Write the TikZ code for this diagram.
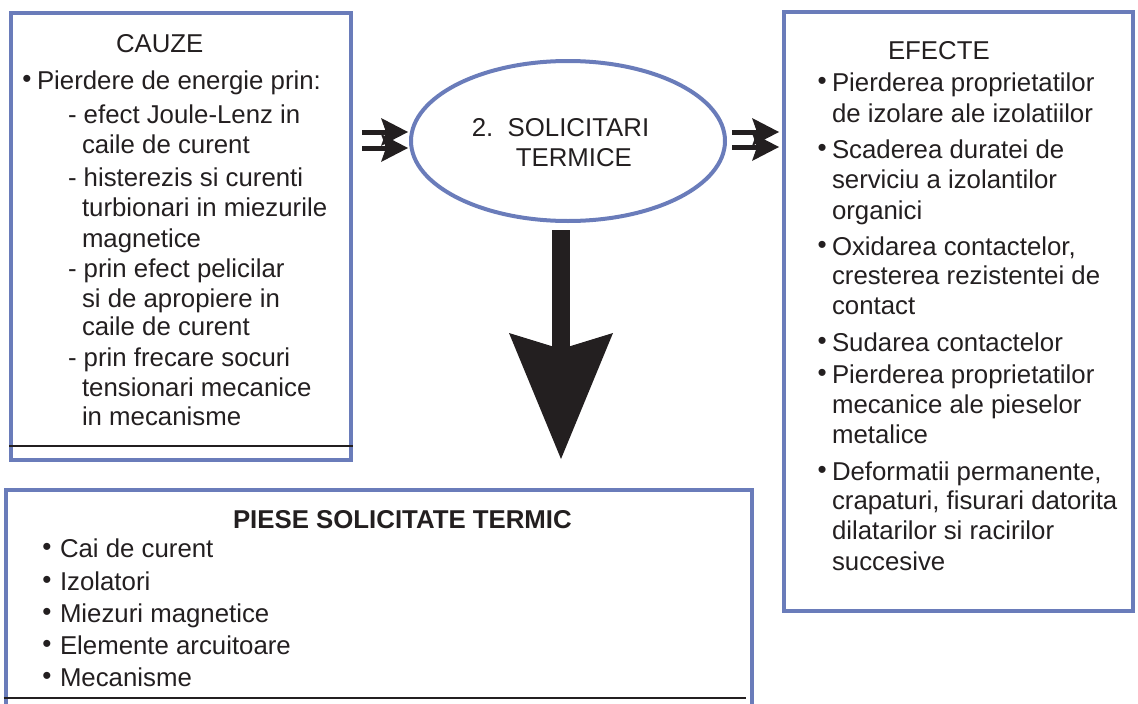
\documentclass[tikz,border=0pt]{standalone}
\usepackage{fontspec}
\setmainfont{Liberation Sans}
\usetikzlibrary{arrows.meta,shapes.geometric,calc}
\definecolor{frame}{RGB}{106,124,186}
\definecolor{ink}{RGB}{35,31,32}
% hanging bullet placed #1 to the left of the line start
\newcommand{\blt}[1]{\llap{\raisebox{1.5pt}{\fontsize{26}{26}\selectfont\textbullet}\hspace{#1}}}
\begin{document}
\begin{tikzpicture}[x=1pt,y=-1pt,
  panel/.style={draw=frame, line width=4pt, rectangle, inner sep=0pt, outer sep=0pt},
  txt/.style={anchor=base west, inner sep=0pt, outer sep=0pt, text=ink,
              font=\fontsize{25.8}{30}\selectfont},
  sepline/.style={draw=ink, line width=2pt},
  twin/.style={draw=ink, line width=5pt,
               -{Stealth[length=27pt,width=28pt,inset=5pt,line width=0pt]}},
  bigdown/.style={draw=ink, line width=18pt,
               -{Stealth[length=126pt,width=104pt,inset=16pt,line width=0pt]}}]
\useasboundingbox (0,0) rectangle (1138,704);

% frames
\node[panel, minimum width=340pt, minimum height=447.5pt] (cauze) at (181,236.25) {};
\node[panel, minimum width=349pt, minimum height=599.5pt] (efecte) at (958.5,311.25) {};
\node[panel, minimum width=746pt, minimum height=260pt] (piese) at (378.5,620) {};
\node[draw=frame, line width=4pt, ellipse, inner sep=0pt, outer sep=0pt,
      minimum width=314pt, minimum height=160pt] (sol) at (568,141) {};
\node[txt, anchor=center, align=left] (soltext) at (560.5,143)
      {2.\ \ SOLICITARI\\\hspace*{44pt}TERMICE};

% separator rules
\draw[sepline] ($(cauze.south west)+(-2,-14)$) -- ($(cauze.south east)+(2,-14)$);
\draw[sepline] ($(piese.north west)+(-2,208)$) -- ($(piese.north east)+(-5.5,208)$);

% causes
\node[txt] (c0) at (116,52) {CAUZE};
\node[txt] (c1) at (37,89) {\blt{5.4pt}Pierdere de energie prin:};
\node[txt] (c2) at (68,123) {- efect Joule-Lenz in};
\node[txt] (c3) at (82,153) {caile de curent};
\node[txt] (c4) at (68,186) {- histerezis si curenti};
\node[txt] (c5) at (82,216) {turbionari in miezurile};
\node[txt] (c6) at (82,247) {magnetice};
\node[txt] (c7) at (68,277) {- prin efect pelicilar};
\node[txt] (c8) at (82,307) {si de apropiere in};
\node[txt] (c9) at (82,335) {caile de curent};
\node[txt] (c10) at (68,366) {- prin frecare socuri};
\node[txt] (c11) at (82,396) {tensionari mecanice};
\node[txt] (c12) at (82,425) {in mecanisme};

% effects
\node[txt] (e0) at (888,59) {EFECTE};
\node[txt] (e1) at (832,91) {\blt{5.4pt}Pierderea proprietatilor};
\node[txt] (e2) at (832,122) {de izolare ale izolatiilor};
\node[txt] (e3) at (832,158) {\blt{5.4pt}Scaderea duratei de};
\node[txt] (e4) at (832,188) {serviciu a izolantilor};
\node[txt] (e5) at (832,219) {organici};
\node[txt] (e6) at (832,255) {\blt{5.4pt}Oxidarea contactelor,};
\node[txt] (e7) at (832,284) {cresterea rezistentei de};
\node[txt] (e8) at (832,314) {contact};
\node[txt] (e9) at (832,351) {\blt{5.4pt}Sudarea contactelor};
\node[txt] (e10) at (832,383) {\blt{5.4pt}Pierderea proprietatilor};
\node[txt] (e11) at (832,413) {mecanice ale pieselor};
\node[txt] (e12) at (832,443) {metalice};
\node[txt] (e13) at (832,480) {\blt{5.4pt}Deformatii permanente,};
\node[txt] (e14) at (832,509) {crapaturi, fisurari datorita};
\node[txt] (e15) at (832,539) {dilatarilor si racirilor};
\node[txt] (e16) at (832,570) {succesive};

% parts under thermal stress
\node[txt, font=\fontsize{25.8}{30}\selectfont\bfseries] (p0) at (233,528) {PIESE SOLICITATE TERMIC};
\node[txt] (p1) at (60,557) {\blt{8.4pt}Cai de curent};
\node[txt] (p2) at (60,590) {\blt{8.4pt}Izolatori};
\node[txt] (p3) at (60,622) {\blt{8.4pt}Miezuri magnetice};
\node[txt] (p4) at (60,654) {\blt{8.4pt}Elemente arcuitoare};
\node[txt] (p5) at (60,686) {\blt{8.4pt}Mecanisme};

% arrows
\draw[twin] ($(cauze.east |- sol.west)+(11,-9)$) -- ($(sol.west)+(-3,-9)$);
\draw[twin] ($(cauze.east |- sol.west)+(11,7)$) -- ($(sol.west)+(-3,7)$);
\draw[twin] ($(sol.east)+(7,-9)$) -- ($(efecte.west |- sol.east)+(-5,-9)$);
\draw[twin] ($(sol.east)+(7,6)$) -- ($(efecte.west |- sol.east)+(-5,6)$);
\draw[bigdown] ($(sol.south)+(-7,9)$) -- ($(sol.south |- piese.north)+(-7,-31)$);
\end{tikzpicture}
\end{document}
